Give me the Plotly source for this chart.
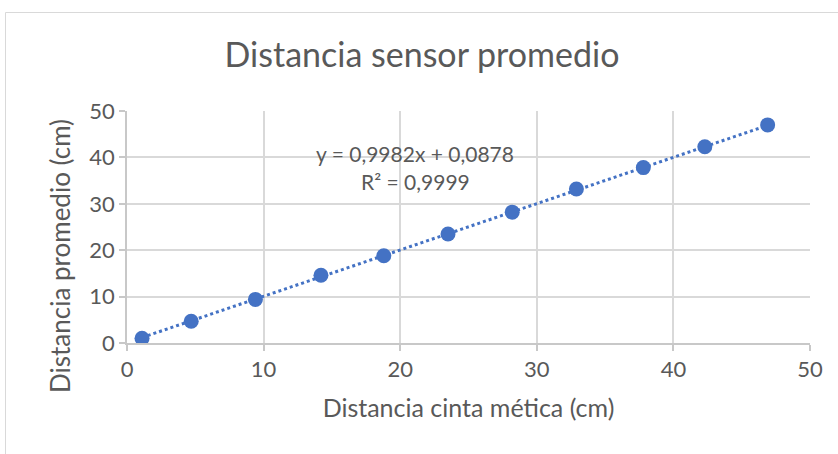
import plotly.graph_objects as go
import numpy as np

# Data
cinta = [1.1, 4.7, 9.4, 14.2, 18.8, 23.5, 28.2, 32.9, 37.8, 42.3, 46.9]
sensor = [1.0, 4.7, 9.4, 14.6, 18.8, 23.5, 28.2, 33.2, 37.8, 42.3, 47.0]
slope = 0.9982
intercept = 0.0878
eq_text = "y = 0,9982x + 0,0878"
r2_text = "R² = 0,9999"
tick_vals = [0, 10, 20, 30, 40, 50]

W, H = 838, 454
L, R, T, B = 127, 28, 111, 111
pw, ph = W - L - R, H - T - B

blue = "#4472C4"
grid = "#d9d9d9"
axis_c = "#c8c8c8"
txt = "#595959"
font = "Lato, Open Sans, sans-serif"

tx = [min(cinta), max(cinta)]
ty = [slope * v + intercept for v in tx]

fig = go.Figure()
fig.add_trace(go.Scatter(x=tx, y=ty, mode="lines",
                         line=dict(color=blue, width=3, dash="dot"),
                         hoverinfo="skip", showlegend=False))
fig.add_trace(go.Scatter(x=cinta, y=sensor, mode="markers",
                         marker=dict(color=blue, size=15),
                         showlegend=False))

def px_x(p):
    return (p - L) / pw

def px_y(p):
    return (H - B - p) / ph

fig.add_shape(type="rect", xref="paper", yref="paper",
              x0=px_x(5.5), x1=px_x(845), y0=px_y(470), y1=px_y(12.5),
              line=dict(color=grid, width=1), fillcolor="rgba(0,0,0,0)", layer="below")

fig.add_annotation(x=px_x(415), y=px_y(139), xref="paper", yref="paper",
                   text=eq_text, showarrow=False,
                   font=dict(family=font, size=21, color=txt))
fig.add_annotation(x=px_x(415), y=px_y(167), xref="paper", yref="paper",
                   text=r2_text, showarrow=False,
                   font=dict(family=font, size=21, color=txt))
# y-axis title (placed like the original, slightly below plot centre)
fig.add_annotation(x=px_x(60), y=px_y(256), xref="paper", yref="paper",
                   text="Distancia promedio (cm)", showarrow=False, textangle=-90,
                   xanchor="center", yanchor="middle",
                   font=dict(family=font, size=26, color=txt))

fig.update_layout(
    width=W, height=H,
    margin=dict(l=L, r=R, t=T, b=B),
    paper_bgcolor="white", plot_bgcolor="white",
    title=dict(text="Distancia sensor promedio", x=(222 + 622) / 2 / W, xanchor="center",
               y=1 - 55 / H, yanchor="middle",
               font=dict(family=font, size=34, color=txt)),
    font=dict(family=font, color=txt),
    xaxis=dict(range=[0, 50], tickvals=tick_vals, showgrid=True, gridcolor=grid, gridwidth=1.5,
               zeroline=False, showline=True, linecolor=axis_c, linewidth=1.5,
               ticks="outside", ticklen=6, tickcolor=axis_c, tickwidth=1.5,
               tickfont=dict(family=font, size=22, color=txt),
               title=dict(text="Distancia cinta mética (cm)", standoff=18,
                          font=dict(family=font, size=25, color=txt))),
    yaxis=dict(range=[0, 50], tickvals=tick_vals, showgrid=True, gridcolor=grid, gridwidth=1.5,
               zeroline=False, showline=True, linecolor=axis_c, linewidth=1.5,
               ticks="outside", ticklen=6, tickcolor=axis_c, tickwidth=1.5,
               tickfont=dict(family=font, size=22, color=txt)),
)

fig.write_html("out.html")
